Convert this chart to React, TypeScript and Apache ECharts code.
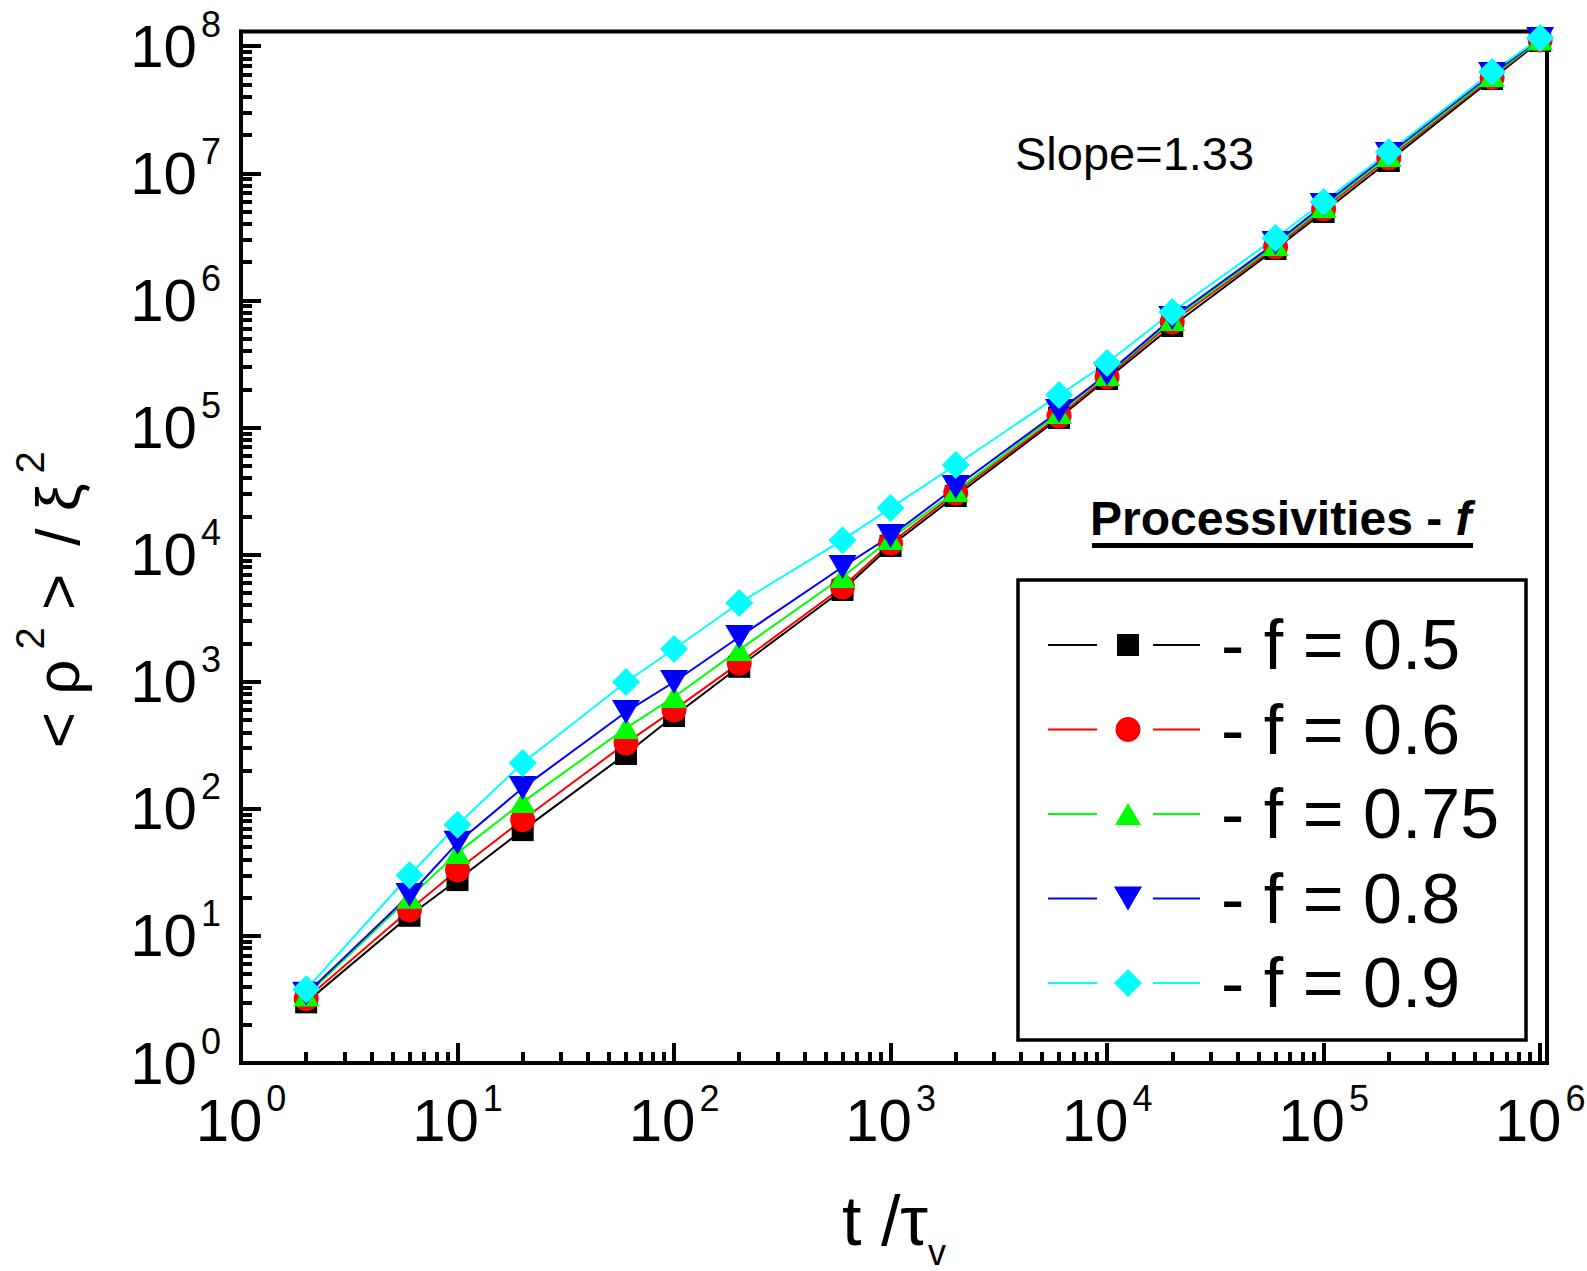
import React, { useEffect, useRef } from 'react';
import * as echarts from 'echarts';

// ---------- data ----------
const TIMES = [2, 6, 10, 20, 60, 100, 200, 600, 1000, 2000, 6000, 10000, 20000, 60000, 100000, 200000, 600000, 1000000];
const F_050 = [3.0, 14.4, 27.5, 68, 270, 537, 1310, 5270, 11700, 28900, 119000, 241000, 629000, 2.54e6, 4.96e6, 1.25e7, 5.52e7, 1.10e8];
const F_060 = [3.2, 16, 33, 82, 329, 600, 1400, 5560, 12300, 30500, 123000, 250000, 676000, 2.63e6, 5.24e6, 1.32e7, 5.68e7, 1.12e8];
const F_075 = [3.4, 20, 45, 113, 432, 758, 1780, 6660, 13300, 31600, 130000, 259000, 701000, 2.73e6, 5.43e6, 1.37e7, 5.83e7, 1.13e8];
const F_080 = [3.5, 21, 54, 146, 578, 995, 2250, 7990, 14000, 34000, 135000, 264000, 727000, 2.83e6, 5.63e6, 1.42e7, 6.04e7, 1.14e8];
const F_090 = [3.8, 30, 75, 229, 995, 1810, 4160, 13000, 23300, 50700, 180000, 322000, 811000, 3.10e6, 5.95e6, 1.47e7, 6.27e7, 1.16e8];
const SERIES_NAMES = ['f = 0.5', 'f = 0.6', 'f = 0.75', 'f = 0.8', 'f = 0.9'];
const X_MAJOR = [1, 10, 100, 1000, 10000, 100000, 1000000];
const Y_MAJOR = [1, 10, 100, 1000, 10000, 100000, 1000000, 10000000, 100000000];
const X_MAX = 1.076e6;
const Y_MAX = 1.306e8;

// ---------- styles ----------
const FONT = '"Liberation Sans", Arial, Helvetica, sans-serif';
const COLORS = ['#000000', '#ff0000', '#00ff00', '#0000ff', '#00ffff'];
const SYMBOLS = ['rect', 'circle', 'triangle', 'triangle', 'diamond'];
const SYMBOL_SIZES: any[] = [22, 25, [26, 22], [28, 24], 28];
const SYMBOL_ROTATE = [0, 0, 0, 180, 0];
const ANCHORS = 'M0,0h0.01v0.01z M152,28h-0.01v-0.01z ';
const LINES = 'M0,13h49v2h-49z M105,13h47v2h-47z ';
const MARKERS = [
  'M69,3h22v22h-22z',
  'M67.5,14a12.5,12.5 0 1,0 25,0a12.5,12.5 0 1,0 -25,0z',
  'M80,3L93,25H67z',
  'M66,2H94L80,26z',
  'M80,0L94,14L80,28L66,14z',
];

function minorTicks(majors: number[], max: number): number[] {
  const out: number[] = [];
  majors.forEach((d) => {
    for (let k = 2; k <= 9; k++) {
      const v = k * d;
      if (v < max) out.push(v);
    }
  });
  return out;
}

const powLabel = (v: number) => `{b|10}{s|${Math.round(Math.log10(v))}}`;

const labelRich = {
  b: { fontSize: 60, height: 60, lineHeight: 80, fontFamily: FONT, color: '#000' },
  s: { fontSize: 36, height: 36, verticalAlign: 'top', padding: [0, 0, 0, 4], fontFamily: FONT, color: '#000' },
};

function majorAxis(kind: 'x' | 'y', majors: number[], max: number): any {
  return {
    type: 'log',
    logBase: 10,
    min: 1,
    max,
    position: kind === 'x' ? 'bottom' : 'left',
    splitLine: { show: false },
    axisLine: { show: true, onZero: false, lineStyle: { color: '#000', width: 4 } },
    axisTick: { show: true, inside: true, length: 20, customValues: majors, lineStyle: { color: '#000', width: 4 } },
    axisLabel: {
      show: true,
      customValues: majors,
      formatter: powLabel,
      margin: kind === 'x' ? 17 : 20,
      rich: labelRich,
      fontFamily: FONT,
      color: '#000',
    },
  };
}

function minorAxis(kind: 'x' | 'y', majors: number[], max: number): any {
  return {
    type: 'log',
    logBase: 10,
    min: 1,
    max,
    position: kind === 'x' ? 'bottom' : 'left',
    splitLine: { show: false },
    axisLine: { show: false, onZero: false },
    axisTick: { show: true, inside: true, length: 11, customValues: minorTicks(majors, max), lineStyle: { color: '#000', width: 4 } },
    axisLabel: { show: false },
  };
}

export default function App() {
  const ref = useRef<HTMLDivElement>(null);

  useEffect(() => {
    if (!ref.current) return;
    const chart = echarts.init(ref.current, undefined, { renderer: 'svg' });
    const seriesValues = [F_050, F_060, F_075, F_080, F_090];

    const xMain = majorAxis('x', X_MAJOR, X_MAX);
    xMain.name = '{b|t\u00a0/\u03c4}{v|v}';
    xMain.nameLocation = 'middle';
    xMain.nameGap = 123;
    xMain.nameTextStyle = {
      fontFamily: FONT,
      color: '#000',
      rich: {
        b: { fontSize: 70, height: 70, lineHeight: 84, verticalAlign: 'top', fontFamily: FONT, color: '#000' },
        v: { fontSize: 36, height: 36, verticalAlign: 'bottom', fontFamily: FONT, color: '#000' },
      },
    };

    const baseY = { fontSize: 62, height: 62, lineHeight: 78, verticalAlign: 'bottom', fontFamily: FONT, color: '#000' };
    const yMain = majorAxis('y', Y_MAJOR, Y_MAX);
    yMain.name = '{b|<\u00a0\u03c1}{s|2}{b|\u00a0>}{d|/}{b|\u00a0\u03be}{s|2}';
    yMain.nameLocation = 'middle';
    yMain.nameRotate = 90;
    yMain.nameGap = 153;
    yMain.nameTextStyle = {
      fontFamily: FONT,
      color: '#000',
      padding: [0, 105, 0, 0],
      rich: {
        b: baseY,
        d: { ...baseY, padding: [0, 0, 0, 28] },
        s: { fontSize: 40, height: 40, verticalAlign: 'top', padding: [0, 0, 0, 10], fontFamily: FONT, color: '#000' },
      },
    };

    const option: any = {
      animation: false,
      backgroundColor: '#ffffff',
      textStyle: { fontFamily: FONT, color: '#000' },
      grid: {
        left: 241,
        top: 31.5,
        right: 40,
        bottom: 208,
        show: true,
        borderColor: '#000',
        borderWidth: 4,
        backgroundColor: 'transparent',
        containLabel: false,
        outerBoundsMode: 'none',
      },
      xAxis: [xMain, minorAxis('x', X_MAJOR, X_MAX)],
      yAxis: [yMain, minorAxis('y', Y_MAJOR, Y_MAX)],
      legend: {
        orient: 'vertical',
        left: 1048,
        top: 610,
        padding: 0,
        itemWidth: 152,
        itemHeight: 28,
        itemGap: 14.5,
        selectedMode: false,
        data: SERIES_NAMES.map((n, i) => ({ name: n, icon: 'path://' + ANCHORS + LINES + MARKERS[i] })),
        formatter: (n: string) => '- ' + n,
        itemStyle: { borderWidth: 0 },
        textStyle: { fontSize: 70, lineHeight: 70, color: '#000', fontFamily: FONT, padding: [0, 0, 0, 16] },
      },
      graphic: [
        {
          type: 'rect',
          z: 1,
          shape: { x: 1018, y: 580, width: 508, height: 460 },
          style: { stroke: '#000', lineWidth: 3.5, fill: 'none' },
        },
        {
          type: 'text',
          x: 1015,
          y: 153,
          style: {
            text: 'Slope=1.33',
            fontSize: 47,
            fontFamily: FONT,
            fill: '#000',
            verticalAlign: 'middle',
            textVerticalAlign: 'middle',
          },
        },
        {
          type: 'text',
          x: 1090,
          y: 518,
          style: {
            text: '{b|Processivities\u00a0-\u00a0}{i|f}',
            fill: '#000',
            verticalAlign: 'middle',
            textVerticalAlign: 'middle',
            rich: {
              b: { fontSize: 48, fontWeight: 'bold', fontFamily: FONT, fill: '#000', color: '#000' },
              i: { fontSize: 48, fontWeight: 'bold', fontStyle: 'italic', fontFamily: FONT, fill: '#000', color: '#000' },
            },
          },
        },
        {
          type: 'rect',
          shape: { x: 1092, y: 543, width: 381, height: 5 },
          style: { fill: '#000' },
        },
      ],
      series: seriesValues.map((vals, i) => ({
        name: SERIES_NAMES[i],
        type: 'line',
        xAxisIndex: 0,
        yAxisIndex: 0,
        data: TIMES.map((t, j) => [t, vals[j]]),
        symbol: SYMBOLS[i],
        symbolSize: SYMBOL_SIZES[i],
        symbolRotate: SYMBOL_ROTATE[i],
        showSymbol: true,
        clip: false,
        color: COLORS[i],
        lineStyle: { color: COLORS[i], width: 2 },
        itemStyle: { color: COLORS[i], borderWidth: 0 },
        emphasis: { disabled: true },
      })),
    };

    chart.setOption(option);
    return () => chart.dispose();
  }, []);

  return (
    <div
      ref={ref}
      style={{ position: 'absolute', left: 0, top: 0, width: 1587, height: 1271, background: '#fff' }}
    />
  );
}
